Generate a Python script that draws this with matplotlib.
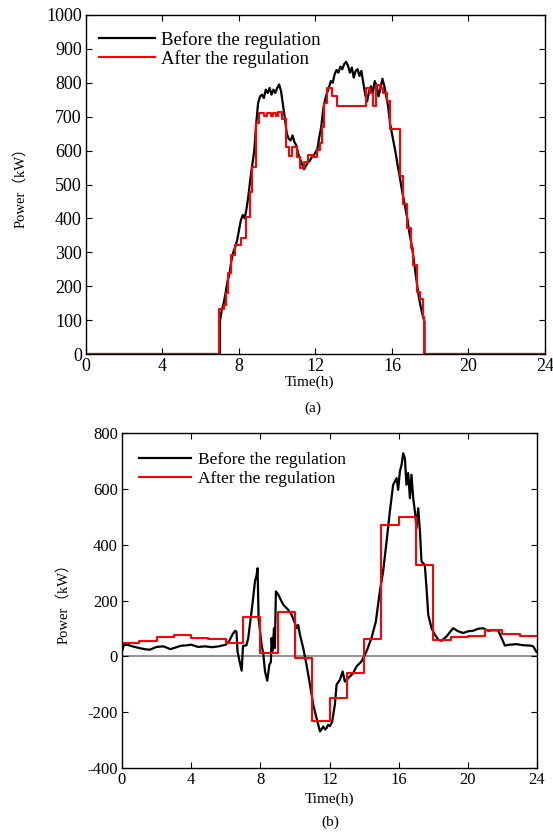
import numpy as np
import matplotlib
matplotlib.use('Agg')
import matplotlib.pyplot as plt

#DATA (a) -------------------------------------------------------------------
#Before regulation, sampled every 0.1 h from 7.0 h to 17.7 h (kW)
before_a_start = 7.0
before_a_vals = [95, 130, 150, 180, 215, 235, 275, 300, 315, 335,
                 365, 395, 410, 400, 430, 470, 520, 560, 600, 680,
                 740, 760, 765, 755, 780, 770, 785, 765, 780, 770,
                 785, 795, 775, 735, 695, 650, 635, 630, 645, 625,
                 615, 590, 575, 560, 545, 555, 565, 570, 580, 585,
                 595, 605, 640, 670, 720, 750, 770, 785, 805, 800,
                 825, 838, 830, 848, 840, 855, 862, 850, 830, 845,
                 815, 835, 840, 820, 835, 800, 765, 745, 775, 790,
                 770, 805, 790, 760, 785, 812, 790, 760, 730, 680,
                 650, 620, 590, 555, 525, 490, 460, 430, 400, 360,
                 330, 295, 250, 210, 170, 140, 115, 95]

#After regulation: step start times (h) and held levels (kW)
after_a_t = [0.0, 6.95, 7.2, 7.3, 7.45, 7.6, 7.8, 8.1, 8.35, 8.55,
             8.66, 8.88, 9.05, 9.3, 9.45, 9.65, 9.8, 9.95, 10.05, 10.23,
             10.44, 10.61, 10.79, 11.01, 11.19, 11.41, 11.62, 11.89, 12.06, 12.23,
             12.32, 12.44, 12.58, 12.85, 13.1, 14.62, 14.85, 15.02, 15.16, 15.35,
             15.51, 15.76, 15.9, 16.4, 16.58, 16.78, 17.0, 17.12, 17.3, 17.45,
             17.62, 17.7]
after_a_p = [0, 132, 144, 179, 238, 292, 322, 342, 405, 478,
             553, 680, 712, 702, 712, 703, 712, 703, 715, 692,
             612, 584, 612, 580, 550, 567, 587, 580, 601, 622,
             670, 740, 784, 760, 732, 784, 770, 733, 793, 785,
             770, 745, 663, 525, 442, 372, 312, 263, 183, 162,
             108, 0]

#DATA (b) -------------------------------------------------------------------
before_b_t = [0.0, 0.1, 0.3, 0.6, 1.0, 1.3, 1.6, 2.0, 2.4, 2.8,
              3.0, 3.4, 3.8, 4.0, 4.4, 4.8, 5.2, 5.6, 6.0, 6.2,
              6.4, 6.55, 6.62, 6.68, 6.8, 6.92, 7.0, 7.2, 7.3, 7.44,
              7.55, 7.69, 7.78, 7.84, 7.9, 8.07, 8.17, 8.27, 8.4, 8.52,
              8.61, 8.65, 8.71, 8.79, 8.84, 8.9, 9.04, 9.13, 9.33, 9.61,
              9.81, 10.0, 10.1, 10.19, 10.29, 10.48, 10.67, 10.87, 11.06, 11.25,
              11.45, 11.55, 11.64, 11.75, 11.83, 11.92, 12.02, 12.15, 12.22, 12.31,
              12.41, 12.6, 12.76, 12.89, 13.08, 13.37, 13.56, 13.85, 14.14, 14.43,
              14.68, 14.91, 15.1, 15.3, 15.49, 15.68, 15.88, 15.97, 16.07, 16.17,
              16.26, 16.36, 16.45, 16.55, 16.65, 16.74, 16.84, 16.94, 17.03, 17.13,
              17.23, 17.32, 17.51, 17.61, 17.71, 17.9, 18.09, 18.29, 18.48, 18.77,
              19.15, 19.44, 19.73, 20.02, 20.31, 20.6, 20.89, 21.17, 21.46, 21.75,
              21.95, 22.14, 22.43, 22.81, 23.2, 23.58, 23.78, 23.97]
before_b_p = [18, 40, 42, 36, 30, 26, 24, 34, 36, 26,
              30, 38, 40, 42, 34, 36, 33, 36, 42, 55,
              80, 92, 88, 18, -18, -51, 37, 40, 66, 137,
              191, 269, 290, 316, 137, 42, 10, -54, -87, -30,
              -20, 66, 20, 101, 30, 233, 221, 209, 185, 167,
              149, 119, 101, 113, 78, 30, -30, -101, -173, -221,
              -269, -260, -251, -262, -257, -245, -250, -235, -209, -173,
              -101, -84, -54, -90, -78, -60, -36, -18, 18, 66,
              125, 233, 304, 412, 519, 615, 639, 597, 663, 687,
              728, 710, 615, 657, 567, 651, 567, 519, 460, 531,
              448, 340, 328, 245, 149, 101, 78, 60, 56, 72,
              101, 90, 84, 90, 92, 99, 101, 92, 94, 93,
              66, 39, 42, 44, 40, 39, 36, 16]

#After regulation: one level per hour
after_b_hours = list(range(24))
after_b_p = [48, 54, 68, 78, 66, 61, 49, 140, 12, 160, -4, -230,
             -150, -58, 61, 470, 499, 328, 60, 69, 74, 94, 79, 73]

#STYLE -----------------------------------------------------------------------
plt.rcParams['font.family'] = ['Liberation Serif', 'Noto Sans CJK SC']
plt.rcParams['axes.unicode_minus'] = False
plt.rcParams['axes.linewidth'] = 1.0

fig = plt.figure(figsize=(5.53, 8.33), dpi=100)
axA = fig.add_axes([0.1555, 0.575, 0.83, 0.407])
axB = fig.add_axes([0.2206, 0.078, 0.7505, 0.402])

#Common axis setup
def styleAxis(ax, ylo, yhi, ystep, fsize):
    ax.set_xlim(0, 24)
    ax.set_ylim(ylo, yhi)
    ax.set_xticks(np.arange(0, 25, 4))
    ax.set_yticks(np.arange(ylo, yhi + 1, ystep))
    ax.tick_params(direction='in', top=True, right=True, length=4,
                   width=0.8, labelsize=fsize, pad=3)

#Chart (a)
t_a = [0.0, before_a_start] + [round(before_a_start + 0.1 * i, 1) for i in range(len(before_a_vals))]
p_a = [0, 0] + before_a_vals
t_a = t_a + [t_a[-1], 24.0]
p_a = p_a + [0, 0]
axA.plot(t_a, p_a, color='black', lw=1.6, label='Before the regulation')
axA.step(after_a_t + [24.0], after_a_p + [after_a_p[-1]], where='post',
         color='red', lw=1.5, label='After the regulation')
styleAxis(axA, 0, 1000, 100, 13)
axA.set_xlabel('Time(h)', fontsize=11)
axA.xaxis.set_label_coords(0.488, -0.062)
axA.set_ylabel('Power（kW）', fontsize=10.5)
axA.yaxis.set_label_coords(-0.128, 0.5)
axA.legend(loc='upper left', frameon=False, fontsize=13.5, handlelength=3.0,
           handletextpad=0.3, labelspacing=0.05, borderpad=0.2,
           borderaxespad=0.3, bbox_to_anchor=(0.008, 0.98))

#Chart (b)
axB.axhline(0, color='gray', lw=1.2, zorder=1)
axB.plot(before_b_t, before_b_p, color='black', lw=1.6, label='Before the regulation')
axB.step(after_b_hours + [24], after_b_p + [after_b_p[-1]], where='post',
         color='red', lw=1.5, label='After the regulation')
styleAxis(axB, -400, 800, 200, 12)
axB.set_xlabel('Time(h)', fontsize=11)
axB.xaxis.set_label_coords(0.501, -0.072)
axB.set_ylabel('Power（kW）', fontsize=10.5)
axB.yaxis.set_label_coords(-0.125, 0.5)
axB.legend(loc='upper left', frameon=False, fontsize=12.5, handlelength=3.0,
           handletextpad=0.4, labelspacing=0.15, borderpad=0.2,
           borderaxespad=0.3, bbox_to_anchor=(0.02, 0.97))

fig.text(313 / 553, 1 - 408 / 833, '(a)', ha='center', va='center', fontsize=11)
fig.text(330 / 553, 1 - 822 / 833, '(b)', ha='center', va='center', fontsize=11)

fig.savefig('out.png', dpi=100)
